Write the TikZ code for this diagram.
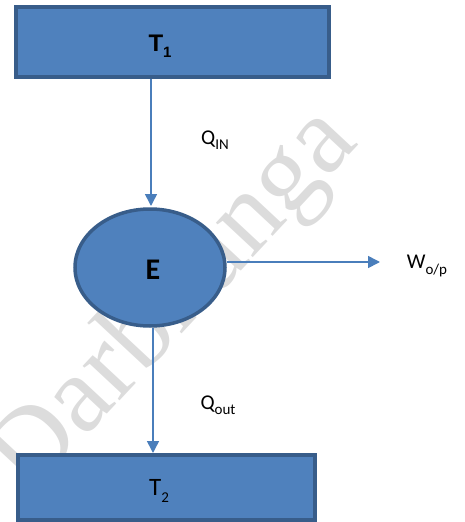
\documentclass[tikz,border=0pt]{standalone}
\usepackage{fontspec}
\setmainfont{Carlito}
\newfontfamily\arialfont{Liberation Sans}
\newfontfamily\wmfont{Liberation Serif}
\usetikzlibrary{arrows.meta,shapes.geometric}
\definecolor{boxfill}{HTML}{4F81BD}
\definecolor{boxedge}{HTML}{385D8A}
\definecolor{arrowblue}{HTML}{4A7EBB}
\definecolor{wmgray}{HTML}{DCDCDC}
\tikzset{
  reservoir/.style={draw=boxedge, fill=boxfill, line width=3.5pt, rectangle},
  engine/.style={draw=boxedge, fill=boxfill, line width=3.5pt, ellipse},
  flow/.style={draw=arrowblue, line width=1.6pt, -{Triangle[length=12pt,width=12pt]}},
  lab/.style={font=\fontsize{21}{24}\selectfont, text=black, inner sep=0pt}
}
\newcommand{\lowsub}[1]{\raisebox{-0.25em}{\fontsize{15}{16}\selectfont #1}}
\begin{document}
\begin{tikzpicture}[x=1pt,y=-1pt]
\useasboundingbox (0,0) rectangle (464,522);
% watermark
\node[text=wmgray, rotate=47, font=\wmfont\fontsize{110}{116}\selectfont, inner sep=0pt] (wm) at (176,302) {Darbhanga};
% reservoirs and engine
\node[reservoir, minimum width=313pt, minimum height=70pt] (T1) at (172.5,42) {};
\node[font=\arialfont\bfseries\fontsize{24}{26}\selectfont, inner sep=0pt] (T1lab) at (160,46) {T\lowsub{\arialfont\bfseries 1}};
\node[engine, minimum width=150pt, minimum height=117pt, inner sep=0pt] (E) at (150,267.5) {};
\node[font=\bfseries\fontsize{30}{32}\selectfont, inner sep=0pt] (Elab) at (153,270) {E};
\node[reservoir, minimum width=297pt, minimum height=65pt] (T2) at (166.5,487.5) {};
\node[lab, font=\fontsize{25}{27}\selectfont] (T2lab) at (159,491) {T\lowsub{2}};
% connectors
\coordinate (out) at (380,262);
\draw[flow] (151,79) -- (151,206);
\draw[flow] (E.east |- out) -- (out);
\draw[flow] (153,328) -- (153,453);
% labels
\node[lab] (qin) at (215,140) {Q\lowsub{IN}};
\node[lab] (qout) at (218,405) {Q\lowsub{out}};
\node[lab] (wop) at (427,266) {W\lowsub{o/p}};
\end{tikzpicture}
\end{document}
